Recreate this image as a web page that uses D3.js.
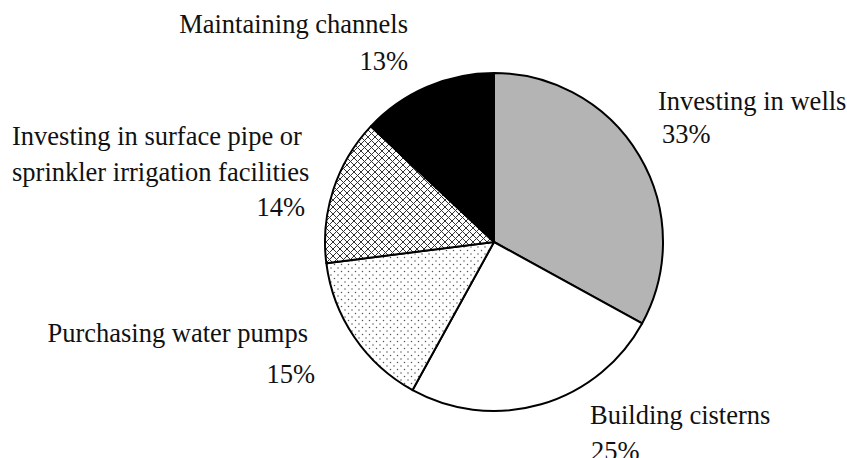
<!DOCTYPE html>
<html>
<head>
<meta charset="utf-8">
<script src="https://cdn.jsdelivr.net/npm/d3@7"></script>
<style>
  html, body { margin: 0; padding: 0; background: #fff; }
  svg { display: block; }
</style>
</head>
<body>
<svg id="main_canvas"></svg>
<script>
const width = 847;
const height = 458;

// data, clockwise from 12 o'clock
const categories = [
  "Investing in wells",
  "Building cisterns",
  "Purchasing water pumps",
  "Investing in surface pipe or sprinkler irrigation facilities",
  "Maintaining channels",
];
const shares = [33, 25, 15, 14, 13];
const fills = ["#b4b4b4", "#ffffff", "url(#dots)", "url(#crosshatch)", "#000000"];

// label placement (lines of the name, then the percent)
const labelLayout = [
  { lines: ["Investing in wells"], x: 658, y: 110, anchor: "start", px: 662, py: 143, panchor: "start" },
  { lines: ["Building cisterns"], x: 590, y: 424, anchor: "start", px: 591, py: 460, panchor: "start" },
  { lines: ["Purchasing water pumps"], x: 308, y: 342, anchor: "end", px: 315, py: 383, panchor: "end" },
  { lines: ["Investing in surface pipe or", "sprinkler irrigation facilities"], x: 12, y: 145, anchor: "start", px: 305, py: 216, panchor: "end" },
  { lines: ["Maintaining channels"], x: 408, y: 33, anchor: "end", px: 408, py: 70, panchor: "end" },
];

const svg = d3.select("#main_canvas").attr("width", width).attr("height", height);

const defs = svg.append("defs");

// dotted fill
const dots = defs.append("pattern")
  .attr("id", "dots")
  .attr("patternUnits", "userSpaceOnUse")
  .attr("width", 7)
  .attr("height", 7);
dots.append("rect").attr("width", 7).attr("height", 7).attr("fill", "#fff");
dots.append("circle").attr("cx", 1.5).attr("cy", 1.5).attr("r", 0.75).attr("fill", "#555");
dots.append("circle").attr("cx", 5).attr("cy", 5).attr("r", 0.75).attr("fill", "#555");

// crosshatch fill
const hatch = defs.append("pattern")
  .attr("id", "crosshatch")
  .attr("patternUnits", "userSpaceOnUse")
  .attr("width", 7)
  .attr("height", 7);
hatch.append("rect").attr("width", 7).attr("height", 7).attr("fill", "#fff");
hatch.append("path")
  .attr("d", "M-1,1 L1,-1 M0,7 L7,0 M6,8 L8,6 M-1,6 L1,8 M0,0 L7,7 M6,-1 L8,1")
  .attr("stroke", "#333")
  .attr("stroke-width", 1);

const cx = 494;
const cy = 242;
const radius = 169;

const pie = d3.pie().sort(null).value((d) => d.value);
const arc = d3.arc().innerRadius(0).outerRadius(radius);

const data = categories.map((c, i) => ({ name: c, value: shares[i], fill: fills[i] }));

const g = svg.append("g").attr("transform", `translate(${cx},${cy})`);

g.selectAll("path")
  .data(pie(data))
  .join("path")
  .attr("d", arc)
  .attr("fill", (d) => d.data.fill)
  .attr("stroke", "#000")
  .attr("stroke-width", 2)
  .attr("stroke-linejoin", "round");

// labels
const labels = svg.append("g")
  .attr("font-family", "Liberation Serif")
  .attr("font-size", 26.5)
  .attr("fill", "#111");

labelLayout.forEach((l, i) => {
  l.lines.forEach((line, j) => {
    labels.append("text")
      .attr("x", l.x)
      .attr("y", l.y + j * 36)
      .attr("text-anchor", l.anchor)
      .text(line);
  });
  labels.append("text")
    .attr("x", l.px)
    .attr("y", l.py)
    .attr("text-anchor", l.panchor)
    .text(shares[i] + "%");
});
</script>
</body>
</html>
